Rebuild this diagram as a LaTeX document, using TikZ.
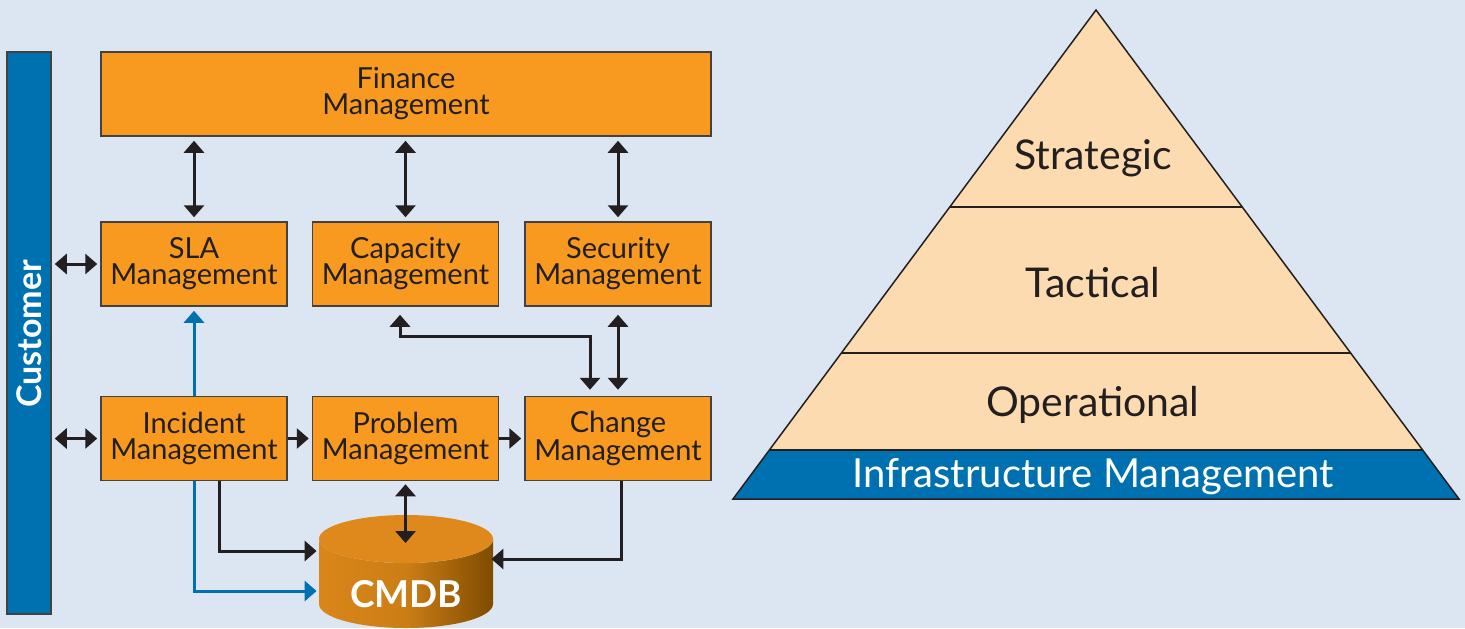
\documentclass[tikz,border=0pt]{standalone}
\usepackage{fontspec}
\setmainfont{Lato}
\usetikzlibrary{arrows.meta}
\definecolor{bg}{HTML}{DCE6F2}
\definecolor{orng}{HTML}{F89A20}
\definecolor{blu}{HTML}{0071B0}
\definecolor{peach}{HTML}{FDDBB0}
\definecolor{ink}{HTML}{231F20}
\definecolor{cyltop}{HTML}{DF891C}
\definecolor{cylleft}{HTML}{D98619}
\definecolor{cylright}{HTML}{7F4C00}
\begin{document}
\begin{tikzpicture}[x=0.5pt,y=-0.5pt,
  box/.style={draw=ink!85, line width=0.75pt, fill=orng, align=center, inner sep=0pt,
    minimum width=93pt, minimum height=42pt, text=ink, font=\fontsize{14.5}{13}\selectfont},
  conn/.style={draw=ink, line width=1.5pt, -{Triangle[width=10pt,length=6pt]}},
  dbl/.style={draw=ink, line width=1.5pt, {Triangle[width=10pt,length=6pt]}-{Triangle[width=10pt,length=6pt]}},
  bconn/.style={draw=blu, line width=1.5pt, -{Triangle[width=10pt,length=6pt]}},
  pyrtext/.style={text=ink, font=\fontsize{20.5}{22}\selectfont, inner sep=0pt}
]
\useasboundingbox (0,0) rectangle (1465,628);
\fill[bg] (0,0) rectangle (1465,628);

% Customer bar
\node[draw=ink!85, line width=0.75pt, fill=blu, minimum width=22pt, minimum height=281pt, inner sep=0pt] (cust) at (29,333) {};
\node[rotate=90, text=white, font=\bfseries\fontsize{17}{18}\selectfont, inner sep=0pt] (custtxt) at (29,334) {Customer};

% Boxes
\node[box, minimum width=305pt] (fin) at (406,94) {Finance\\Management};
\node[box] (sla) at (194,264) {SLA\\Management};
\node[box] (cap) at (405.5,264) {Capacity\\Management};
\node[box] (sec) at (618,264) {Security\\Management};
\node[box] (inc) at (194,438.5) {Incident\\Management};
\node[box] (prob) at (405.5,438.5) {Problem\\Management};
\node[box] (chg) at (618,438.5) {Change\\Management};

% CMDB cylinder
\shade[left color=cylleft, right color=cylright, middle color=cylleft!85!cylright]
  (319,539) -- (319,604) arc[start angle=180, end angle=360, x radius=43.5pt, y radius=12pt]
  -- (493,539) arc[start angle=0, end angle=-180, x radius=43.5pt, y radius=12pt] -- cycle;
\fill[cyltop] (406,539) ellipse[x radius=43.5pt, y radius=12pt];
\node[inner sep=0pt, minimum width=87pt, minimum height=56.5pt] (cmdb) at (406,571.5) {};
\node[text=white, font=\bfseries\fontsize{18.5}{20}\selectfont, inner sep=0pt] (cmdbtxt) at (406,594) {CMDB};
\coordinate (cmdbtop) at (405.5,543);

% Connectors
\draw[dbl, shorten <=2pt, shorten >=2pt] (fin.south -| sla.north) -- (sla.north);
\draw[dbl, shorten <=2pt, shorten >=2pt] (fin.south -| cap.north) -- (cap.north);
\draw[dbl, shorten <=2pt, shorten >=2pt] (fin.south -| sec.north) -- (sec.north);
\draw[dbl, shorten <=1.5pt, shorten >=1.5pt] (cust.east |- sla.west) -- (sla.west);
\draw[dbl, shorten <=1.5pt, shorten >=1.5pt] (cust.east |- inc.west) -- (inc.west);
\draw[conn, shorten >=1.5pt] (inc.east) -- (prob.west);
\draw[conn, shorten >=1.5pt] (prob.east) -- (chg.west);
\draw[bconn, shorten >=2pt] (inc.north) -- (sla.south);
\draw[bconn, shorten >=1pt] (inc.south) |- (cmdb.west |- 0,591);
\draw[conn, shorten >=1pt] (inc.south -| 219,0) |- (cmdb.west |- 0,551);
\draw[dbl, shorten <=1.5pt] (prob.south) -- (cmdbtop);
\draw[conn, shorten >=-1pt] (chg.south -| 621,0) |- (cmdb.east |- 0,559);
\draw[dbl, shorten <=4pt, shorten >=3pt] (cap.south -| 400,0) |- (590,336) -- (chg.north -| 590,0);
\draw[dbl, shorten <=4pt, shorten >=3pt] (sec.south) -- (chg.north -| sec.south);

% Pyramid
\fill[peach] (1096,10) -- (1459,499) -- (733,499) -- cycle;
\fill[blu] (769.5,450) -- (1422.5,450) -- (1459,499) -- (733,499) -- cycle;
\draw[ink, line width=0.75pt] (950,207) -- (1242,207);
\draw[ink, line width=0.75pt] (841.5,353) -- (1350.5,353);
\draw[ink, line width=0.75pt] (769.5,450) -- (1422.5,450);
\draw[ink, line width=0.75pt, line join=miter] (1096,10) -- (1459,499) -- (733,499) -- cycle;
\node[pyrtext] (strat) at (1093,158) {Strategic};
\node[pyrtext] (tact) at (1093,283) {Tactical};
\node[pyrtext] (oper) at (1093,405) {Operational};
\node[pyrtext, text=white, font=\fontsize{20}{22}\selectfont] (infra) at (1093,477) {Infrastructure Management};
\end{tikzpicture}
\end{document}
